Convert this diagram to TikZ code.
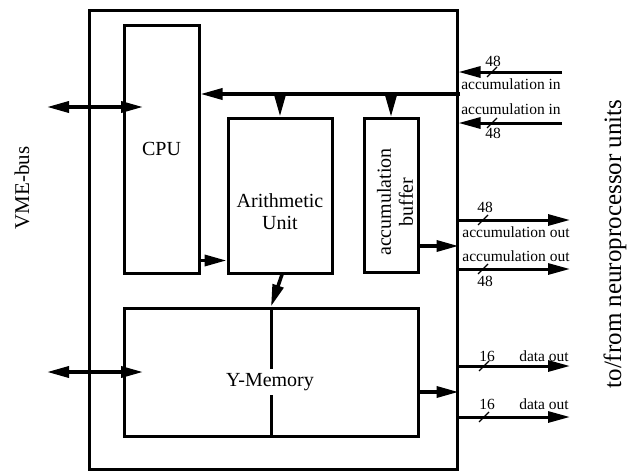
\documentclass[tikz,border=0pt]{standalone}
\usepackage{fontspec}
\setmainfont{Liberation Serif}
\usetikzlibrary{arrows.meta,calc}

\begin{document}
\begin{tikzpicture}[x=1pt,y=-1pt,>={Triangle[length=22pt,width=11pt]},
  every node/.style={font=\fontsize{20}{22}\selectfont,align=center,inner sep=0pt},
  box/.style={draw,line width=3pt},
  wire/.style={line width=3.5pt},
  sig/.style={line width=3pt},
  sml/.style={font=\fontsize{15.5}{17}\selectfont},
  slash/.style={line width=1.2pt}]
\useasboundingbox (0,0) rectangle (634,471);
% board and units
\node[box,minimum width=368pt,minimum height=459pt] (board) at (273,239.5) {};
\node[box,minimum width=75pt,minimum height=248pt] (cpu) at (161.5,149) {CPU};
\node[box,minimum width=104pt,minimum height=155pt] (au) at (280,195.5) {};
\node (aulbl) at (280,212) {Arithmetic\\Unit};
\node[box,minimum width=54pt,minimum height=154pt] (buf) at (391,195.5) {};
\node[rotate=90] (buflbl) at (395,202) {accumulation\\buffer};
\node[box,minimum width=294pt,minimum height=128pt] (ymem) at (271,372) {};
\draw[box] (ymem.north) -- (ymem.south);
\node[fill=white,inner sep=4pt] (ymemlbl) at (270,382) {Y-Memory};
% side texts
\node[rotate=90,font=\fontsize{21}{23}\selectfont] (vme) at (22,188) {VME-bus};
\node[rotate=90,font=\fontsize{25}{27}\selectfont] (npu) at (615,244) {to/from neuroprocessor units};
% internal connections
\coordinate (busend) at (460,94);
\draw[wire,->] (busend) -- (cpu.east |- busend);
\draw[wire,->] (au.north |- busend) -- (au.north);
\draw[wire,->] (buf.north |- busend) -- (buf.north);
\draw[wire,->] ($(cpu.south east)+(0,-14)$) -- ($(au.south west)+(0,-14)$);
\draw[wire,->] ($(au.south)+(2,0)$) -- (ymem.north);
\coordinate (bufout) at ($(buf.south east)+(0,-28)$);
\coordinate (ymout) at ($(ymem.east)+(0,20)$);
\draw[wire,->] (bufout) -- (bufout -| board.east);
\draw[wire,->] (ymout) -- (ymout -| board.east);
% VME-bus ports
\coordinate (vmecpu) at (47,107);
\coordinate (cpuport) at (143,107);
\coordinate (vmemem) at (47,372);
\coordinate (memport) at (143,372);
\draw[wire,<->] (vmecpu) -- (cpuport);
\draw[wire,<->] (vmemem) -- (memport);
% neuroprocessor ports
\coordinate (in1) at (562,72);
\coordinate (in2) at (562,123);
\coordinate (out1) at (570,220);
\coordinate (out2) at (570,269);
\coordinate (dat1) at (570,366);
\coordinate (dat2) at (570,417);
\draw[sig,->] (in1) -- (in1 -| board.east);
\draw[sig,->] (in2) -- (in2 -| board.east);
\draw[sig,->] (out1 -| board.east) -- (out1);
\draw[sig,->] (out2 -| board.east) -- (out2);
\draw[sig,->] (dat1 -| board.east) -- (dat1);
\draw[sig,->] (dat2 -| board.east) -- (dat2);
\foreach \x/\y in {492/72,492/123,483/220,483/269,484/366,484/417}
  \draw[slash] (\x-5,\y+5) -- (\x+5,\y-5);
\node[sml] (in1w) at (493,61) {48};
\node[sml] (in1l) at (511,84) {accumulation in};
\node[sml] (in2l) at (511,109) {accumulation in};
\node[sml] (in2w) at (493,133) {48};
\node[sml] (out1w) at (485,207) {48};
\node[sml] (out1l) at (516,232) {accumulation out};
\node[sml] (out2l) at (516,256) {accumulation out};
\node[sml] (out2w) at (485,281) {48};
\node[sml] (dat1w) at (487,356) {16};
\node[sml] (dat1l) at (544,356) {data out};
\node[sml] (dat2w) at (487,404) {16};
\node[sml] (dat2l) at (544,404) {data out};
\end{tikzpicture}
\end{document}
